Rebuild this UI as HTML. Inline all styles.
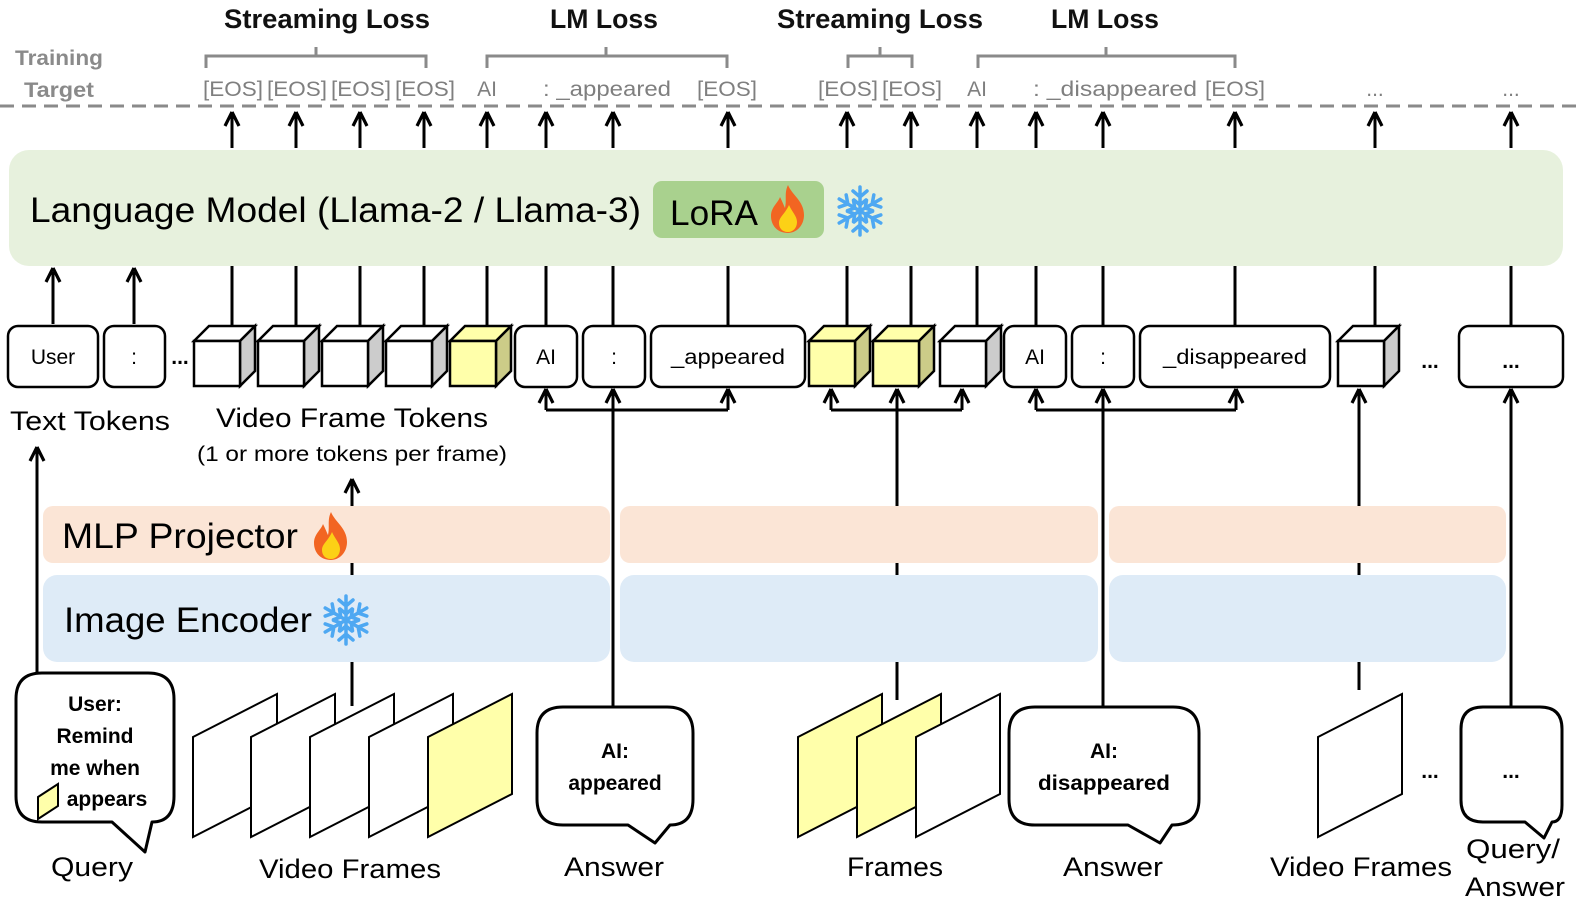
<!DOCTYPE html>
<html><head><meta charset="utf-8"><style>
html,body{margin:0;padding:0;background:#fff;overflow:hidden;width:1578px;height:912px;}
svg{display:block;}
text{font-family:"Liberation Sans",sans-serif;}
</style></head><body>
<svg width="1578" height="912" viewBox="0 0 1578 912" xmlns="http://www.w3.org/2000/svg">
<defs>
<g id="arr"><path d="M0,0 L-7,14 M0,0 L7,14" stroke="#000" stroke-width="3.2" fill="none"/></g>
<g id="cubeW">
<path d="M0,15 L15,0 L61,0 L46,15 Z" fill="#fff" stroke="#000" stroke-width="2.5"/>
<path d="M46,15 L61,0 L61,45 L46,60 Z" fill="#ccc" stroke="#000" stroke-width="2.5"/>
<rect x="0" y="15" width="46" height="45" fill="#fff" stroke="#000" stroke-width="2.5"/>
</g>
<g id="cubeY">
<path d="M0,15 L15,0 L61,0 L46,15 Z" fill="#ffffaa" stroke="#000" stroke-width="2.5"/>
<path d="M46,15 L61,0 L61,45 L46,60 Z" fill="#cccc88" stroke="#000" stroke-width="2.5"/>
<rect x="0" y="15" width="46" height="45" fill="#ffffaa" stroke="#000" stroke-width="2.5"/>
</g>
<path id="frW" d="M0,43 L84,0 L84,100 L0,143 Z" fill="#fff" stroke="#000" stroke-width="2"/>
<path id="frY" d="M0,43 L84,0 L84,100 L0,143 Z" fill="#ffffaa" stroke="#000" stroke-width="2"/>
<g id="fire">
<path d="M0,-24 C4,-14 16,-8 16,6 C16,17 8,24 0,24 C-10,24 -17,17 -17,7 C-17,-2 -10,-6 -8,-12 C-5,-6 -4,-3 -3,-1 C-1,-9 -4,-16 0,-24 Z" fill="#f26522"/>
<path d="M1,-4 C4,3 9,7 9,13 C9,19 5,23 0,23 C-6,23 -9,19 -9,14 C-9,8 -3,5 1,-4 Z" fill="#fcd116"/>
</g>
<g id="snow" stroke="#4ea8f2" stroke-width="3.5" fill="none" stroke-linecap="round">
<g id="arm"><path d="M0,0 L0,-24 M-7,-20 L0,-14 L7,-20 M-6,-11 L0,-6 L6,-11"/></g>
<use href="#arm" transform="rotate(60)"/><use href="#arm" transform="rotate(120)"/>
<use href="#arm" transform="rotate(180)"/><use href="#arm" transform="rotate(240)"/><use href="#arm" transform="rotate(300)"/>
</g>
</defs>

<g font-weight="bold" font-size="27" text-anchor="middle" fill="#111">
<text x="327" y="28" textLength="206" lengthAdjust="spacingAndGlyphs">Streaming Loss</text>
<text x="604" y="28" textLength="108" lengthAdjust="spacingAndGlyphs">LM Loss</text>
<text x="880" y="28" textLength="206" lengthAdjust="spacingAndGlyphs">Streaming Loss</text>
<text x="1105" y="28" textLength="108" lengthAdjust="spacingAndGlyphs">LM Loss</text>
</g>
<g stroke="#8a8a8a" stroke-width="3" fill="none">
<path d="M206,68 L206,56 L426,56 L426,68 M316,56 L316,47"/>
<path d="M487,68 L487,56 L727,56 L727,68 M606,56 L606,47"/>
<path d="M848,68 L848,56 L912,56 L912,68 M880,56 L880,47"/>
<path d="M978,68 L978,56 L1235,56 L1235,68 M1106,56 L1106,47"/>
</g>
<g font-weight="bold" font-size="21" fill="#8a8a8a">
<text x="15" y="65" textLength="88" lengthAdjust="spacingAndGlyphs">Training</text>
<text x="24" y="97" textLength="70" lengthAdjust="spacingAndGlyphs">Target</text>
</g>
<g font-size="21" fill="#7f7f7f" text-anchor="middle">
<text x="233" y="96" textLength="60" lengthAdjust="spacingAndGlyphs">[EOS]</text>
<text x="297" y="96" textLength="60" lengthAdjust="spacingAndGlyphs">[EOS]</text>
<text x="361" y="96" textLength="60" lengthAdjust="spacingAndGlyphs">[EOS]</text>
<text x="425" y="96" textLength="60" lengthAdjust="spacingAndGlyphs">[EOS]</text>
<text x="487" y="96">AI</text>
<text x="607" y="96" textLength="128" lengthAdjust="spacingAndGlyphs">: _appeared</text>
<text x="727" y="96" textLength="60" lengthAdjust="spacingAndGlyphs">[EOS]</text>
<text x="848" y="96" textLength="60" lengthAdjust="spacingAndGlyphs">[EOS]</text>
<text x="912" y="96" textLength="60" lengthAdjust="spacingAndGlyphs">[EOS]</text>
<text x="977" y="96">AI</text>
<text x="1115" y="96" textLength="164" lengthAdjust="spacingAndGlyphs">: _disappeared</text>
<text x="1235" y="96" textLength="60" lengthAdjust="spacingAndGlyphs">[EOS]</text>
<text x="1375" y="96">...</text>
<text x="1511" y="96">...</text>
</g>
<line x1="0" y1="106" x2="1578" y2="106" stroke="#8a8a8a" stroke-width="3" stroke-dasharray="14 8"/>

<g stroke="#000" stroke-width="3">
<path d="M232,148V114 M296,148V114 M360,148V114 M424,148V114 M487,148V114 M546,148V114 M613,148V114 M728,148V114 M847,148V114 M911,148V114 M977,148V114 M1036,148V114 M1103,148V114 M1235,148V114 M1375,148V114 M1511,148V114"/>
</g>
<g>
<use href="#arr" x="232" y="112"/><use href="#arr" x="296" y="112"/><use href="#arr" x="360" y="112"/><use href="#arr" x="424" y="112"/>
<use href="#arr" x="487" y="112"/><use href="#arr" x="546" y="112"/><use href="#arr" x="613" y="112"/><use href="#arr" x="728" y="112"/>
<use href="#arr" x="847" y="112"/><use href="#arr" x="911" y="112"/><use href="#arr" x="977" y="112"/><use href="#arr" x="1036" y="112"/>
<use href="#arr" x="1103" y="112"/><use href="#arr" x="1235" y="112"/><use href="#arr" x="1375" y="112"/><use href="#arr" x="1511" y="112"/>
</g>

<rect x="9" y="150" width="1554" height="116" rx="20" fill="#e7f1dd"/>
<text x="30" y="222" font-size="35" fill="#000" textLength="611" lengthAdjust="spacingAndGlyphs">Language Model (Llama-2 / Llama-3)</text>
<rect x="653" y="181" width="171" height="57" rx="9" fill="#a9d18e"/>
<text x="670" y="225" font-size="35" fill="#000" textLength="88" lengthAdjust="spacingAndGlyphs">LoRA</text>
<use href="#fire" x="788" y="209"/>
<use href="#snow" x="860" y="211"/>

<g stroke="#000" stroke-width="3">
<path d="M232,326V266 M296,326V266 M360,326V266 M424,326V266 M487,326V266 M546,326V266 M613,326V266 M728,326V266 M847,326V266 M911,326V266 M977,326V266 M1036,326V266 M1103,326V266 M1235,326V266 M1375,326V266 M1511,326V266"/>
<path d="M53,324V272 M134,324V272"/>
</g>
<use href="#arr" x="53" y="268"/><use href="#arr" x="134" y="268"/>

<g fill="#fff" stroke="#000" stroke-width="2.5">
<rect x="8" y="326" width="90" height="61" rx="10"/>
<rect x="104" y="326" width="61" height="61" rx="10"/>
<rect x="515" y="326" width="62" height="61" rx="10"/>
<rect x="583" y="326" width="62" height="61" rx="10"/>
<rect x="651" y="326" width="154" height="61" rx="10"/>
<rect x="1004" y="326" width="62" height="61" rx="10"/>
<rect x="1072" y="326" width="62" height="61" rx="10"/>
<rect x="1140" y="326" width="190" height="61" rx="10"/>
<rect x="1459" y="326" width="104" height="61" rx="10"/>
</g>
<use href="#cubeW" x="194" y="326"/><use href="#cubeW" x="258" y="326"/><use href="#cubeW" x="322" y="326"/><use href="#cubeW" x="386" y="326"/>
<use href="#cubeY" x="450" y="326"/>
<use href="#cubeY" x="809" y="326"/><use href="#cubeY" x="873" y="326"/><use href="#cubeW" x="940" y="326"/>
<use href="#cubeW" x="1338" y="326"/>
<g font-size="21" fill="#000" text-anchor="middle">
<text x="53" y="364">User</text>
<text x="134" y="364">:</text>
<text x="546" y="364">AI</text>
<text x="614" y="364">:</text>
<text x="728" y="364" textLength="114" lengthAdjust="spacingAndGlyphs">_appeared</text>
<text x="1035" y="364">AI</text>
<text x="1103" y="364">:</text>
<text x="1235" y="364" textLength="144" lengthAdjust="spacingAndGlyphs">_disappeared</text>
<text x="180" y="364" font-weight="bold">...</text>
<text x="1430" y="368" font-weight="bold">...</text>
<text x="1511" y="368" font-weight="bold">...</text>
</g>

<g font-size="27" fill="#000">
<text x="10" y="430" textLength="160" lengthAdjust="spacingAndGlyphs">Text Tokens</text>
<text x="352" y="427" text-anchor="middle" textLength="272" lengthAdjust="spacingAndGlyphs">Video Frame Tokens</text>
<text x="352" y="461" text-anchor="middle" font-size="21" textLength="310" lengthAdjust="spacingAndGlyphs">(1 or more tokens per frame)</text>
</g>

<g stroke="#000" stroke-width="3" fill="none">
<path d="M37,672V450"/>
<path d="M352,706V482"/>
<path d="M613,706V392 M546,410H728 M546,410V392 M728,410V392"/>
<path d="M897,700V392 M831,410H962 M831,410V392 M962,410V392"/>
<path d="M1103,706V392 M1036,410H1236 M1036,410V392 M1236,410V392"/>
<path d="M1359,690V392"/>
<path d="M1511,706V392"/>
</g>
<use href="#arr" x="37" y="447"/><use href="#arr" x="352" y="479"/>
<use href="#arr" x="546" y="389"/><use href="#arr" x="613" y="389"/><use href="#arr" x="728" y="389"/>
<use href="#arr" x="831" y="389"/><use href="#arr" x="897" y="389"/><use href="#arr" x="962" y="389"/>
<use href="#arr" x="1036" y="389"/><use href="#arr" x="1103" y="389"/><use href="#arr" x="1236" y="389"/>
<use href="#arr" x="1359" y="389"/><use href="#arr" x="1511" y="389"/>

<g fill="#fbe5d6">
<rect x="43" y="506" width="567" height="57" rx="10"/>
<rect x="620" y="506" width="478" height="57" rx="10"/>
<rect x="1109" y="506" width="397" height="57" rx="10"/>
</g>
<g fill="#deebf7">
<rect x="43" y="575" width="567" height="87" rx="14"/>
<rect x="620" y="575" width="478" height="87" rx="14"/>
<rect x="1109" y="575" width="397" height="87" rx="14"/>
</g>
<text x="62" y="548" font-size="35" fill="#000" textLength="236" lengthAdjust="spacingAndGlyphs">MLP Projector</text>
<use href="#fire" x="331" y="536"/>
<text x="64" y="632" font-size="35" fill="#000" textLength="248" lengthAdjust="spacingAndGlyphs">Image Encoder</text>
<use href="#snow" x="346" y="620"/>

<use href="#frW" x="193" y="694"/><use href="#frW" x="251" y="694"/><use href="#frW" x="310" y="694"/><use href="#frW" x="369" y="694"/><use href="#frY" x="428" y="694"/>
<use href="#frY" x="798" y="694"/><use href="#frY" x="857" y="694"/><use href="#frW" x="916" y="694"/>
<use href="#frW" x="1318" y="694"/>
<text x="1430" y="778" font-size="21" font-weight="bold" text-anchor="middle">...</text>

<g fill="#fff" stroke="#000" stroke-width="3" stroke-linejoin="round">
<path d="M42,673 H148 Q174,673 174,699 V796 Q174,822 152,822 L145,852 L112,822 H42 Q16,822 16,796 V699 Q16,673 42,673 Z"/>
<path d="M563,707 H667 Q693,707 693,733 V799 Q693,825 670,825 L655,843 L628,825 H563 Q537,825 537,799 V733 Q537,707 563,707 Z"/>
<path d="M1035,707 H1173 Q1199,707 1199,733 V799 Q1199,825 1172,825 L1160,843 L1128,825 H1035 Q1009,825 1009,799 V733 Q1009,707 1035,707 Z"/>
<path d="M1483,707 H1540 Q1562,707 1562,729 V805 Q1562,822 1552,822 L1544,838 L1525,822 H1483 Q1461,822 1461,800 V729 Q1461,707 1483,707 Z"/>
</g>
<path d="M38,797 L58,784 L58,806 L38,819 Z" fill="#ffffaa" stroke="#000" stroke-width="2"/>
<g font-size="21" font-weight="bold" fill="#000" text-anchor="middle">
<text x="95" y="711">User:</text>
<text x="95" y="743">Remind</text>
<text x="95" y="775">me when</text>
<text x="107" y="806">appears</text>
<text x="615" y="758">AI:</text>
<text x="615" y="790">appeared</text>
<text x="1104" y="758">AI:</text>
<text x="1104" y="790" textLength="132" lengthAdjust="spacingAndGlyphs">disappeared</text>
<text x="1511" y="778">...</text>
</g>

<g font-size="27" fill="#000" text-anchor="middle">
<text x="92" y="876" textLength="82" lengthAdjust="spacingAndGlyphs">Query</text>
<text x="350" y="878" textLength="182" lengthAdjust="spacingAndGlyphs">Video Frames</text>
<text x="614" y="876" textLength="100" lengthAdjust="spacingAndGlyphs">Answer</text>
<text x="895" y="876" textLength="96" lengthAdjust="spacingAndGlyphs">Frames</text>
<text x="1113" y="876" textLength="100" lengthAdjust="spacingAndGlyphs">Answer</text>
<text x="1361" y="876" textLength="182" lengthAdjust="spacingAndGlyphs">Video Frames</text>
<text x="1513" y="858" textLength="94" lengthAdjust="spacingAndGlyphs">Query/</text>
<text x="1515" y="896" textLength="100" lengthAdjust="spacingAndGlyphs">Answer</text>
</g>
</svg>
</body></html>
